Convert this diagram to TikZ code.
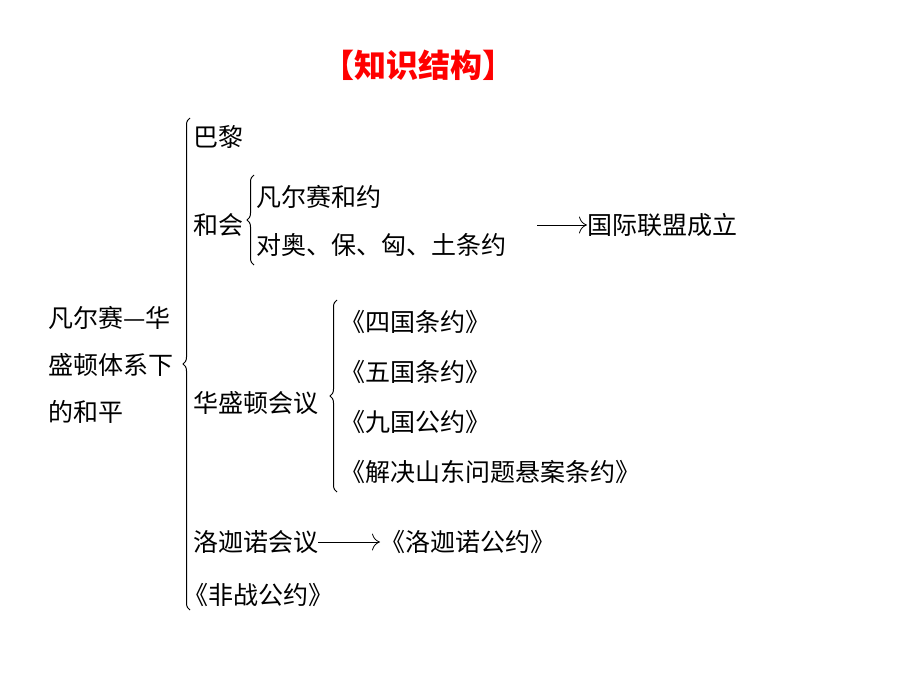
\documentclass[tikz,border=0pt]{standalone}
\usepackage{fontspec}
\setmainfont{Noto Sans CJK SC}
\usetikzlibrary{decorations.pathreplacing,arrows.meta}
\begin{document}
\begin{tikzpicture}[x=1pt,y=-1pt,
  t/.style={anchor=west,inner sep=0pt,font=\fontsize{25}{28}\selectfont},
  br/.style={decorate,decoration={brace,amplitude=7pt},line width=1pt},
  arr/.style={-{To[length=8pt]},line width=0.8pt}]
\useasboundingbox (0,0) rectangle (920,690);
\node[inner sep=0pt,text=red,font=\fontsize{32}{36}\selectfont\bfseries] (title) at (418,65) {【知识结构】};
\node[t] (l1) at (48,318) {凡尔赛—华};
\node[t] (l2) at (48,365) {盛顿体系下};
\node[t] (l3) at (48,412) {的和平};
\draw[br] (190,610) -- (190,118);
\node[t] (bl) at (193,137) {巴黎};
\node[t] (hh) at (193,225) {和会};
\draw[br] (254,265) -- (254,175);
\node[t] (v) at (256,197) {凡尔赛和约};
\node[t] (d) at (256,245) {对奥、保、匈、土条约};
\coordinate (a1) at (537,225);
\node[t] (gj) at (587,225) {国际联盟成立};
\draw[arr] (a1) -- (gj.west);
\node[t] (hs) at (193,403) {华盛顿会议};
\draw[br] (337,492) -- (337,300);
\node[t] (w1) at (340,322) {《四国条约》};
\node[t] (w2) at (340,372) {《五国条约》};
\node[t] (w3) at (340,422) {《九国公约》};
\node[t] (w4) at (340,472) {《解决山东问题悬案条约》};
\node[t] (lj) at (193,542) {洛迦诺会议};
\node[t] (ljg) at (380,542) {《洛迦诺公约》};
\draw[arr] (lj.east) -- (ljg.west);
\node[t] (fz) at (183,595) {《非战公约》};
\end{tikzpicture}
\end{document}
